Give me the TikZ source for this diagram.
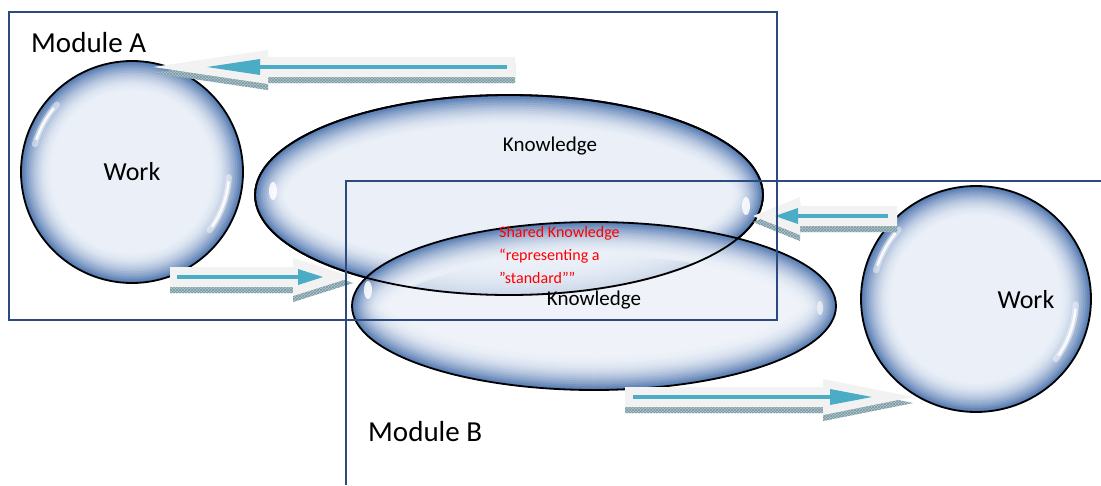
\documentclass[tikz,border=0pt]{standalone}
\usepackage{fontspec}
\setmainfont{Carlito}
\usetikzlibrary{shapes.geometric,patterns}

\definecolor{bubin}{HTML}{EBF0F8}
\definecolor{bubout}{HTML}{4F76AF}
\definecolor{framecol}{HTML}{2C4A7E}
\definecolor{arrowteal}{HTML}{4BACC6}
\definecolor{arrowgrey}{HTML}{F2F2F2}
\definecolor{shadowcol}{HTML}{B3C8CD}
\definecolor{shadowline}{HTML}{76979F}

\tikzset{
  frame/.style={draw=framecol, line width=1.6pt},
  hl/.style={white, line cap=round},
  label/.style={inner sep=0pt, text=black},
  rim/.style={line width=1.8pt, draw=black},
}

% glassy bubble: pale core with a blue rim of constant width
% name, x, y, x radius, y radius, core opacity
\newcommand\bubble[6]{%
  \node[ellipse, inner sep=0pt, minimum width={2*#4}, minimum height={2*#5}] (#1) at (#2,#3) {};
  \begin{scope}
    \clip (#2,#3) ellipse [x radius=#4, y radius=#5];
    \fill[bubin, opacity=#6] (#2,#3) ellipse [x radius=#4, y radius=#5];
    \foreach \k in {0,...,16} {
      \pgfmathsetmacro\w{3+64*(1-\k/16)}
      \pgfmathtruncatemacro\p{100*(\k/16)^1.9}
      \draw[line width=\w pt, bubout!\p!bubin, opacity=#6]
        (#2,#3) ellipse [x radius=#4, y radius=#5];
    }
  \end{scope}
  \draw[rim] (#2,#3) ellipse [x radius=#4, y radius=#5];
}

% fat 3D arrow: tail, head base, tip, y, head half-height,
% inner line tail, inner head base, inner tip
\newcommand\fatarrow[8]{%
  \begin{scope}[shift={(0,6)}]
    \fill[shadowcol] (#1,#4-10) -- (#2,#4-10) -- (#2,#4-#5) -- (#3,#4) -- (#2,#4+#5) -- (#2,#4+10) -- (#1,#4+10) -- cycle;
    \fill[pattern=crosshatch, pattern color=shadowline] (#1,#4-10) -- (#2,#4-10) -- (#2,#4-#5) -- (#3,#4) -- (#2,#4+#5) -- (#2,#4+10) -- (#1,#4+10) -- cycle;
  \end{scope}
  \fill[arrowgrey] (#1,#4-10) -- (#2,#4-10) -- (#2,#4-#5) -- (#3,#4) -- (#2,#4+#5) -- (#2,#4+10) -- (#1,#4+10) -- cycle;
  \draw[arrowteal, line width=4pt] (#6,#4) -- (#7,#4);
  \fill[arrowteal] (#7,#4-8) -- (#8,#4) -- (#7,#4+8) -- cycle;
}

\begin{document}
\begin{tikzpicture}[x=1pt, y=-1pt]
\useasboundingbox (0,0) rectangle (1101,485);

% bubbles
\bubble{workA}{132}{172}{111}{111}{1}
\bubble{knowA}{509}{195}{254}{100}{1}
\bubble{knowB}{594}{306}{242}{84}{0.8}
\draw[rim] (knowA.center) ellipse [x radius=254, y radius=100];
\bubble{workB}{976}{299}{115}{113}{1}

% highlights on the bubbles
\foreach \c/\r in {workA/101, workB/104} {
  \draw[hl, line width=6pt, opacity=0.45] (\c.center) ++(196:\r) arc (196:222:\r);
  \draw[hl, line width=2.5pt, opacity=0.9] (\c.center) ++(199:\r) arc (199:219:\r);
  \draw[hl, line width=6pt, opacity=0.45] (\c.center) ++(3:\r-4) arc (3:37:\r-4);
  \draw[hl, line width=2.5pt, opacity=0.9] (\c.center) ++(6:\r-4) arc (6:34:\r-4);
}
\fill[white, opacity=0.85] (273,191) ellipse [x radius=4, y radius=9];
\fill[white, opacity=0.85] (746,206) ellipse [x radius=4, y radius=9];
\fill[white, opacity=0.85] (368,290) ellipse [x radius=4, y radius=9];
\fill[white, opacity=0.6] (820,308) ellipse [x radius=3, y radius=7];

% labels inside the bubbles
\node[label, font=\fontsize{26}{30}\selectfont] (wA) at (workA.center) {Work};
\node[label, font=\fontsize{21}{25}\selectfont] (kA) at (550,146) {Knowledge};
\node[label, font=\fontsize{21}{25}\selectfont] (kB) at (594,300) {Knowledge};
\node[label, font=\fontsize{26}{30}\selectfont] (wB) at (1026,300) {Work};
\node[label, anchor=north west, text=red, align=left,
      font=\fontsize{16}{23}\selectfont] (shared) at (499,226)
      {Shared Knowledge\\“representing a\\”standard””};

% fat arrows
\fatarrow{515}{268}{153}{67}{17}{507}{260}{207}
\fatarrow{170}{293}{353}{277}{19}{177}{298}{323}
\fatarrow{897}{800}{753}{216}{19}{888}{798}{775}
\fatarrow{625}{823}{913}{397}{18}{633}{830}{872}

% module frames
\draw[frame] (9,12) rectangle (777,320);
\draw[frame] (346,485) -- (346,181) -- (1101,181);

\node[label, anchor=base west, font=\fontsize{29}{34}\selectfont] (modA) at (31,52) {Module A};
\node[label, anchor=base west, font=\fontsize{29}{34}\selectfont] (modB) at (368,441) {Module B};
\end{tikzpicture}
\end{document}
